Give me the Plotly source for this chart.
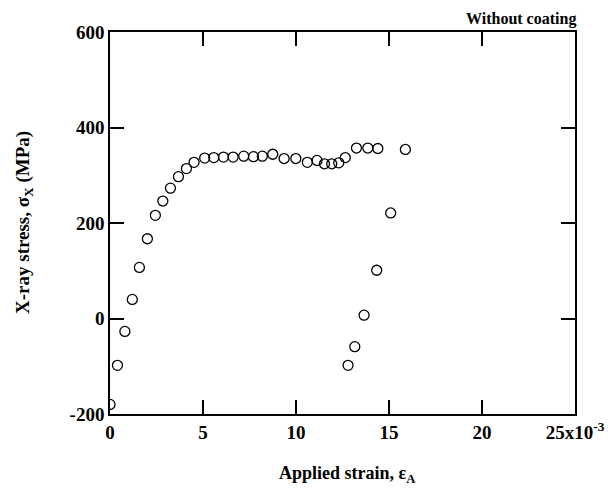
import plotly.graph_objects as go

# Applied strain (x10^-3) and X-ray stress (MPa)
strain_load = [0.0, 0.4, 0.8, 1.2, 1.58, 2.01, 2.44, 2.84, 3.25, 3.68, 4.11, 4.52,
               5.09, 5.58, 6.1, 6.62, 7.19, 7.71, 8.19, 8.75, 9.36, 9.99, 10.61,
               11.13, 11.53, 11.92, 12.3, 12.65, 13.25, 13.86, 14.4, 15.88]
stress_load = [-180, -98, -27, 40, 107, 167, 216, 246, 273, 297, 314, 327,
               336, 337, 338, 338, 340, 339, 340, 344, 335, 335, 327,
               331, 324, 324, 326, 337, 357, 357, 356, 354]
strain_unload = [12.8, 13.16, 13.66, 14.34, 15.09]
stress_unload = [-98, -59, 7, 101, 221]

x_tickvals = [0, 5, 10, 15, 20, 25]
x_ticktext = ["<b>0</b>", "<b>5</b>", "<b>10</b>", "<b>15</b>", "<b>20</b>", "<b>25x10<sup>-3</sup></b>"]
y_tickvals = [-200, 0, 200, 400, 600]
y_ticktext = ["<b>-200</b>", "<b>0</b>", "<b>200</b>", "<b>400</b>", "<b>600</b>"]

font_family = "Liberation Serif"

fig = go.Figure()
fig.add_trace(go.Scatter(
    x=strain_load + strain_unload,
    y=stress_load + stress_unload,
    mode="markers",
    marker=dict(symbol="circle-open", size=10, color="black", line=dict(width=1.3, color="black")),
    showlegend=False,
))

axis_common = dict(
    showline=True, linecolor="black", linewidth=1.6, mirror="ticks",
    ticks="inside", ticklen=14, tickwidth=1.6, tickcolor="black",
    showgrid=False, zeroline=False, automargin=False,
    tickfont=dict(family=font_family, size=19, color="black"),
)

fig.update_xaxes(range=[0, 25], tickvals=x_tickvals, ticktext=x_ticktext, **axis_common)
fig.update_yaxes(range=[-200, 600], tickvals=y_tickvals, ticktext=y_ticktext, **axis_common)

# axis titles
fig.add_annotation(text="<b>Applied strain, ε<sub>A</sub></b>", xref="paper", yref="paper",
                   x=0.5, y=0, xanchor="center", yanchor="top", yshift=-47, xshift=4,
                   showarrow=False, font=dict(family=font_family, size=18, color="black"))
fig.add_annotation(text="<b>X-ray stress, σ<sub>X</sub> (MPa)</b>", xref="paper", yref="paper",
                   x=0, y=0.5, xanchor="right", yanchor="middle", xshift=-72, textangle=-90,
                   showarrow=False, font=dict(family=font_family, size=19, color="black"))

fig.add_annotation(text="<b>Without coating</b>", xref="paper", yref="paper",
                   x=1.0, y=1.0, xanchor="right", yanchor="bottom", yshift=2, xshift=3,
                   showarrow=False,
                   font=dict(family=font_family, size=16, color="black"))

fig.update_layout(
    width=608, height=489,
    margin=dict(l=110, r=33, t=32, b=75),
    plot_bgcolor="white", paper_bgcolor="white",
)

fig.write_html("out.html")
